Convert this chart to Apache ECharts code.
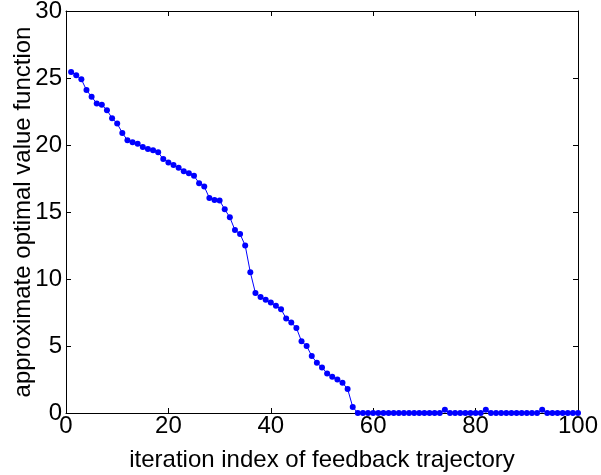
<!DOCTYPE html>
<html>
<head>
<meta charset="utf-8">
<script src="https://cdn.jsdelivr.net/npm/echarts@6/dist/echarts.min.js"></script>
<style>
  html, body { margin: 0; padding: 0; background: #fff; }
  #myChart { width: 601px; height: 475px; }
</style>
</head>
<body>
<div id="myChart"></div>
<script>
// iteration index 1..100
var iterations = [];
for (var i = 1; i <= 100; i++) iterations.push(i);

// approximate optimal value function
var valueHead = [
  25.45, 25.2, 24.9, 24.1, 23.6, 23.1, 23.0, 22.6, 22.0, 21.6,
  20.9, 20.35, 20.2, 20.1, 19.85, 19.7, 19.6, 19.45, 18.95, 18.7,
  18.5, 18.3, 18.05, 17.9, 17.7, 17.15, 16.9, 16.05, 15.9, 15.85,
  15.2, 14.6, 13.65, 13.35, 12.5, 10.5, 8.95, 8.65, 8.45, 8.25,
  8.0, 7.75, 7.05, 6.75, 6.35, 5.35, 5.0, 4.25, 3.75, 3.4,
  2.95, 2.7, 2.5, 2.25, 1.8, 0.45
];
var valueTail = [
  0, 0, 0, 0, 0, 0, 0, 0, 0, 0, 0, 0, 0, 0, 0, 0, 0, 0.25, 0, 0,
  0, 0, 0, 0, 0, 0.25, 0, 0, 0, 0, 0, 0, 0, 0, 0, 0, 0.25, 0, 0, 0,
  0, 0, 0, 0
];
var values = valueHead.concat(valueTail);

var xTicks = [0, 20, 40, 60, 80, 100];
var yTicks = [0, 5, 10, 15, 20, 25, 30];

var points = iterations.map(function (x, k) { return [x, values[k]]; });

var font = "Liberation Sans, Arial, Helvetica, sans-serif";
var tickStyle = { show: true, inside: true, length: 5, lineStyle: { color: "#000", width: 1 } };
var lineStyle = { show: true, onZero: false, lineStyle: { color: "#000", width: 1 } };

var myChart = echarts.init(document.getElementById("myChart"));
myChart.setOption({
  animation: false,
  grid: { left: 66, right: 23, top: 11, bottom: 62, containLabel: false, outerBoundsMode: "none" },
  xAxis: [
    {
      type: "value",
      min: xTicks[0],
      max: xTicks[xTicks.length - 1],
      interval: 20,
      position: "bottom",
      name: "iteration index of feedback trajectory",
      nameLocation: "middle",
      nameGap: 35,
      nameMoveOverlap: false,
      nameTextStyle: { fontFamily: font, fontSize: 24, color: "#000" },
      axisLine: lineStyle,
      axisTick: tickStyle,
      axisLabel: { fontFamily: font, fontSize: 24, color: "#000", margin: 1 },
      splitLine: { show: false }
    },
    {
      type: "value",
      min: xTicks[0],
      max: xTicks[xTicks.length - 1],
      interval: 20,
      position: "top",
      axisLine: lineStyle,
      axisTick: tickStyle,
      axisLabel: { show: false },
      splitLine: { show: false }
    }
  ],
  yAxis: [
    {
      type: "value",
      min: yTicks[0],
      max: yTicks[yTicks.length - 1],
      interval: 5,
      position: "left",
      name: "approximate optimal value function",
      nameLocation: "middle",
      nameGap: 31,
      nameMoveOverlap: false,
      nameTextStyle: { fontFamily: font, fontSize: 24, color: "#000" },
      axisLine: lineStyle,
      axisTick: tickStyle,
      axisLabel: { fontFamily: font, fontSize: 24, color: "#000", margin: 4 },
      splitLine: { show: false }
    },
    {
      type: "value",
      min: yTicks[0],
      max: yTicks[yTicks.length - 1],
      interval: 5,
      position: "right",
      axisLine: lineStyle,
      axisTick: tickStyle,
      axisLabel: { show: false },
      splitLine: { show: false }
    }
  ],
  series: [
    {
      type: "line",
      data: points,
      xAxisIndex: 0,
      yAxisIndex: 0,
      symbol: "circle",
      symbolSize: 6,
      showAllSymbol: true,
      itemStyle: { color: "#0000ff" },
      lineStyle: { color: "#0000ff", width: 1 }
    }
  ]
});
</script>
</body>
</html>
